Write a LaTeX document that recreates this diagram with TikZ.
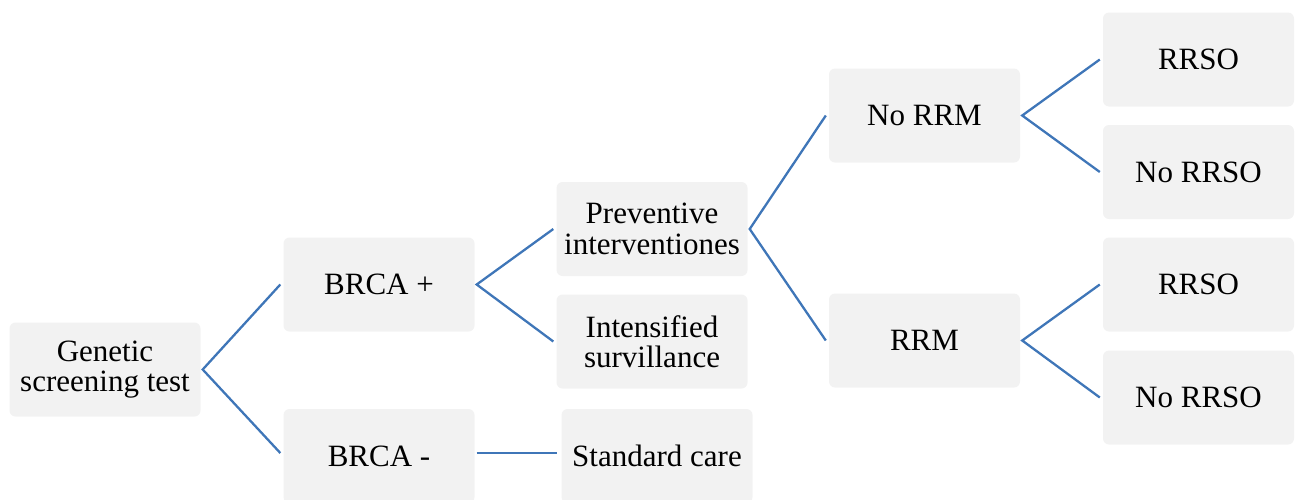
\documentclass[tikz,border=0pt]{standalone}
\usepackage{fontspec}
\setmainfont{Liberation Serif}
\definecolor{boxgray}{HTML}{F2F2F2}
\definecolor{linkblue}{HTML}{3F76B8}
\begin{document}
\begin{tikzpicture}[x=1pt,y=-1pt,
  box/.style={fill=boxgray,rounded corners=6pt,minimum width=191pt,minimum height=94pt,
    inner sep=0pt,align=center,font=\rmfamily\fontsize{31}{30.5}\selectfont},
  link/.style={draw=linkblue,line width=2.3pt}]
\useasboundingbox (0,0) rectangle (1295,499);
\node[box] (gen) at (105,369.5) {Genetic\\screening test};
\node[box] (bp) at (379,284.5) {BRCA +};
\node[box] (bm) at (379,456) {BRCA -};
\node[box] (prev) at (652,229) {Preventive\\interventiones};
\node[box] (int) at (652,341.5) {Intensified\\survillance};
\node[box] (std) at (657,456) {Standard care};
\node[box] (norrm) at (924.5,115.5) {No RRM};
\node[box] (rrm) at (924.5,340.5) {RRM};
\node[box] (r1) at (1198.5,59.5) {RRSO};
\node[box] (n1) at (1198.5,172) {No RRSO};
\node[box] (r2) at (1198.5,284.5) {RRSO};
\node[box] (n2) at (1198.5,397.5) {No RRSO};
\draw[link] ([xshift=-3pt]bp.west) -- ([xshift=2pt]gen.east) -- ([xshift=-3pt,yshift=3pt]bm.west);
\draw[link] ([xshift=-3pt]prev.west) -- ([xshift=2pt]bp.east) -- ([xshift=-3pt]int.west);
\draw[link] ([xshift=2pt,yshift=3pt]bm.east) -- ([xshift=-4pt,yshift=3pt]std.west);
\draw[link] ([xshift=-3pt]norrm.west) -- ([xshift=2pt]prev.east) -- ([xshift=-3pt]rrm.west);
\draw[link] ([xshift=-3pt]r1.west) -- ([xshift=2pt]norrm.east) -- ([xshift=-3pt]n1.west);
\draw[link] ([xshift=-3pt]r2.west) -- ([xshift=2pt]rrm.east) -- ([xshift=-3pt]n2.west);
\end{tikzpicture}
\end{document}
